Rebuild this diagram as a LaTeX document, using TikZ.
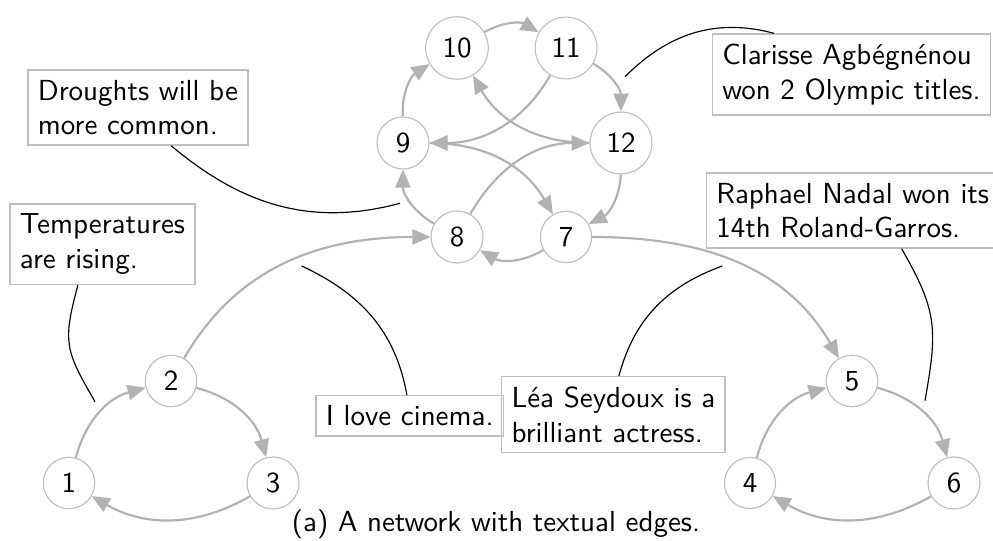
\documentclass[tikz,border=0pt]{standalone}
\usepackage{fontspec}
\usetikzlibrary{arrows.meta}
\definecolor{edgegray}{gray}{0.70}
\definecolor{nodegray}{gray}{0.75}
\begin{document}
\begin{tikzpicture}[x=0.3448pt,y=0.3448pt,
  font=\sffamily,
  vertex/.style={circle,draw=nodegray,line width=0.4pt,inner sep=3.33pt},
  edgeline/.style={draw=edgegray,line width=0.75pt,-{Triangle[length=6.2pt,width=5.2pt]}},
  textbox/.style={draw=nodegray,line width=0.5pt,align=left,inner sep=3.4pt,anchor=north west},
  annot/.style={draw=black,line width=0.4pt}]
\useasboundingbox (0,0) rectangle (993,541);
% vertices
\node[vertex] (n1) at (69,58) {1};
\node[vertex] (n2) at (171,160) {2};
\node[vertex] (n3) at (273,58) {3};
\node[vertex] (n4) at (750,58) {4};
\node[vertex] (n5) at (852,160) {5};
\node[vertex] (n6) at (954,58) {6};
\node[vertex] (n7) at (566,304) {7};
\node[vertex] (n8) at (457,304) {8};
\node[vertex] (n9) at (403,398) {9};
\node[vertex] (n10) at (457,493) {10};
\node[vertex] (n11) at (566,493) {11};
\node[vertex] (n12) at (621,398) {12};
% text boxes
\node[textbox] (dr) at (27.3,471.7) {Droughts will be\\more common.};
\node[textbox] (te) at (9.3,337.7) {Temperatures\\are rising.};
\node[textbox] (ci) at (315.3,146) {I love cinema.};
\node[textbox] (le) at (501,165) {Léa Seydoux is a\\brilliant actress.};
\node[textbox] (na) at (705.7,368.7) {Raphael Nadal won its\\14th Roland-Garros.};
\node[textbox] (cl) at (711.7,507.7) {Clarisse Agbégnénou\\won 2 Olympic titles.};
% caption
\node[anchor=base] (cap) at (496,9) {(a) A network with textual edges.};
% edges
\draw[edgeline] (n1) to[bend left=30] (n2);
\draw[edgeline] (n2) to[bend left=30] (n3);
\draw[edgeline] (n3) to[bend left=30] (n1);
\draw[edgeline] (n4) to[bend left=30] (n5);
\draw[edgeline] (n5) to[bend left=30] (n6);
\draw[edgeline] (n6) to[bend left=30] (n4);
\draw[edgeline] (n8) to[bend left=30] (n9);
\draw[edgeline] (n9) to[bend left=30] (n10);
\draw[edgeline] (n10) to[bend left=30] (n11);
\draw[edgeline] (n11) to[bend left=30] (n12);
\draw[edgeline] (n12) to[bend left=30] (n7);
\draw[edgeline] (n7) to[bend left=30] (n8);
\draw[edgeline] (n11) to[out=-120,in=0] (n9);
\draw[edgeline] (n12) to[out=180,in=-60] (n10);
\draw[edgeline] (n8) to[out=60,in=180] (n12);
\draw[edgeline] (n9) to[out=0,in=120] (n7);
\draw[edgeline] (n2) to[out=60,in=180] (n8);
\draw[edgeline] (n7) to[out=0,in=120] (n5);
% annotation ends
\coordinate (e1) at (400,337.7);
\coordinate (e2) at (95,139.3);
\coordinate (e3) at (301.7,275);
\coordinate (e4) at (722.3,275);
\coordinate (e5) at (925,140.3);
\coordinate (e6) at (625,464.3);
\draw[annot] (dr.-49) to[out=-40,in=195] (e1);
\draw[annot] (te.-121) to[out=-105,in=120,looseness=1.3] (e2);
\draw[annot] (ci.98) to[out=100,in=-25] (e3);
\draw[annot] (le.82) to[out=75,in=200] (e4);
\draw[annot] (na.-38.5) to[out=-60,in=80,looseness=1.2] (e5);
\draw[annot] (cl.152.4) to[out=165,in=45] (e6);
\end{tikzpicture}
\end{document}
